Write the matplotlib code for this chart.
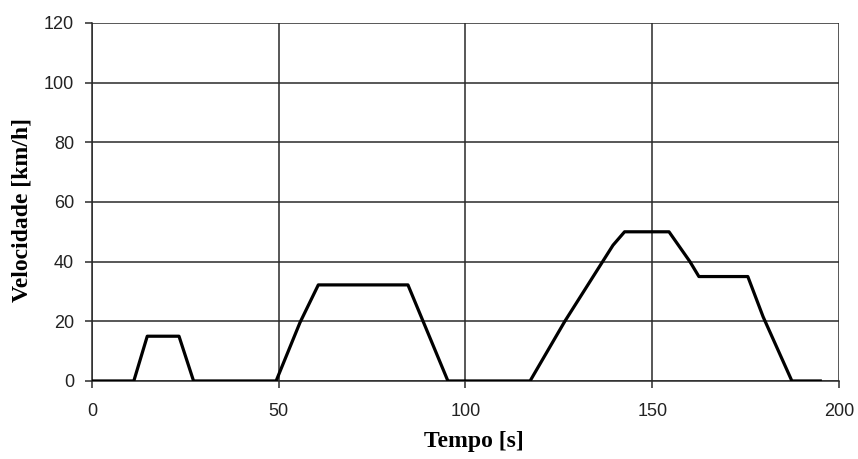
import matplotlib.pyplot as plt

# speed trace (smooth ramps, no gear-change steps visible)
tempo = [0, 11.2, 14.8, 23.3, 27.2, 49.3, 55.7, 60.6, 84.6, 95.3,
         117.3, 126.6, 139.5, 142.6, 154.5, 160.1, 162.5, 175.6, 179.7, 187.4, 195]
velocidade = [0, 0, 15, 15, 0, 0, 19.6, 32.2, 32.2, 0,
              0, 20, 45.5, 50, 50, 40, 35, 35, 21.5, 0, 0]

x_ticks = [0, 50, 100, 150, 200]
y_ticks = [0, 20, 40, 60, 80, 100, 120]

fig = plt.figure(figsize=(8.58, 4.59), dpi=100)
ax = fig.add_axes([0.1072, 0.170, 0.8706, 0.780])

ax.plot(tempo, velocidade, color='black', lw=2.3, zorder=3)

ax.set_xlim(0, 200)
ax.set_ylim(0, 120)
ax.set_xticks(x_ticks)
ax.set_yticks(y_ticks)
ax.grid(True, color='#2a2a2a', lw=1.1)
ax.set_axisbelow(True)

for s in ['top', 'right']:
    ax.spines[s].set_visible(False)
for s in ['left', 'bottom']:
    ax.spines[s].set_color('#2a2a2a')
    ax.spines[s].set_linewidth(1.1)

ax.tick_params(direction='out', length=5, width=1.1, color='#2a2a2a',
               labelcolor='#222222')
ax.tick_params(axis='y', pad=8)
ax.tick_params(axis='x', pad=11)
for lab in ax.get_xticklabels() + ax.get_yticklabels():
    lab.set_fontfamily('Liberation Sans')
    lab.set_fontsize(13)

ax.set_xlabel('Tempo [s]', family='Liberation Serif', weight='bold', fontsize=17)
ax.set_ylabel('Velocidade [km/h]', family='Liberation Serif', weight='bold', fontsize=17)
ax.xaxis.set_label_coords(0.511, -0.14)
ax.yaxis.set_label_coords(-0.079, 0.478)

fig.savefig('out.png', dpi=100)
